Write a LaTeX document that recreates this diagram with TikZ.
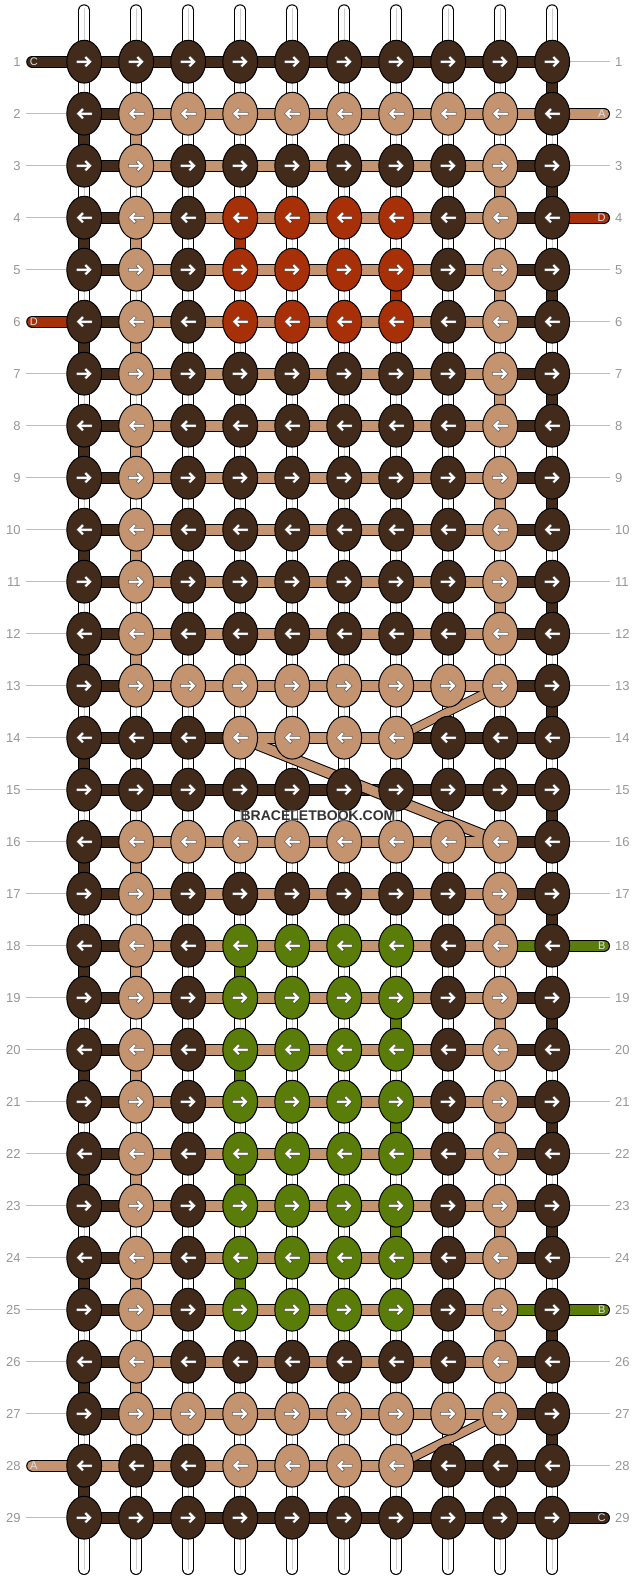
\documentclass[tikz,border=0pt]{standalone}
\usepackage{fontspec}
\setmainfont{Liberation Sans}
\usetikzlibrary{shapes.geometric,backgrounds}
\definecolor{brn}{RGB}{67,43,27}
\definecolor{tan}{RGB}{196,148,113}
\definecolor{rst}{RGB}{168,48,8}
\definecolor{grn}{RGB}{90,125,10}
\definecolor{warpline}{RGB}{205,205,205}
\definecolor{tickline}{RGB}{190,190,190}
\definecolor{numgray}{RGB}{150,150,150}
% knot colours of one row
\def\kAll{brn,brn,brn,brn,brn,brn,brn,brn,brn,brn}
\def\kA{brn,tan,brn,brn,brn,brn,brn,brn,tan,brn}
\def\kB{brn,tan,tan,tan,tan,tan,tan,tan,tan,brn}
\def\kC{brn,brn,brn,tan,tan,tan,tan,brn,brn,brn}
\def\kR{brn,tan,brn,rst,rst,rst,rst,brn,tan,brn}
\def\kG{brn,tan,brn,grn,grn,grn,grn,brn,tan,brn}
% thread colours between the knots of one row
\def\hAll{brn,brn,brn,brn,brn,brn,brn,brn,brn}
\def\hA{brn,tan,tan,tan,tan,tan,tan,tan,brn}
\def\hB{brn,tan,tan,tan,tan,tan,tan,tan,tan}
\def\hC{brn,brn,brn,tan,tan,tan,brn,brn,brn}
\def\hE{brn,tan,tan,tan,tan,tan,tan,tan,grn}
\def\hF{tan,tan,tan,tan,tan,tan,brn,brn,brn}
\tikzset{
    %Define style for knots
    knot/.style={
           ellipse,
           draw=black, line width=1pt,
           minimum width=34.8pt,
           minimum height=42.8pt,
           inner sep=0pt},
    % Define arrow style
    knotarrow/.style={
           fill=white,
           draw=black, draw opacity=.55, line width=.5pt},
    % Define threads
    thread/.style={
           draw=black, line width=12pt,
           postaction={draw=#1,line width=10pt}},
    slantlong/.style={
           draw=black, line width=11.5pt,
           postaction={draw=tan,line width=9.5pt}},
    slantshort/.style={
           draw=black, line width=9.5pt,
           postaction={draw=tan,line width=7.5pt}},
    warpmid/.style={
           draw=warpline, line width=1pt,
           line cap=round,
           shorten <=-1.5pt},
    tick/.style={
           draw=tickline, line width=1pt,
           yshift=.5pt,
           shorten <=5pt},
    num/.style={
           inner sep=0pt,
           text=numgray,
           font=\fontsize{13}{15}\selectfont},
    tailtext/.style={
           inner sep=0pt,
           text=white!88!black,
           font=\fontsize{11}{13}\selectfont}
}

\begin{document}
\begin{tikzpicture}[x=1pt,y=-1pt]
\useasboundingbox (0,0) rectangle (636,1580);

 %knots
\foreach \r/\cols in {1/\kAll,2/\kB,3/\kA,4/\kR,5/\kR,6/\kR,7/\kA,8/\kA,9/\kA,10/\kA,
    11/\kA,12/\kA,13/\kB,14/\kC,15/\kAll,16/\kB,17/\kA,18/\kG,19/\kG,20/\kG,21/\kG,
    22/\kG,23/\kG,24/\kG,25/\kG,26/\kA,27/\kB,28/\kC,29/\kAll}{
  \edef\rowcols{\cols}
  \pgfmathsetmacro\dir{ifthenelse(isodd(\r),1,-1)}
  \foreach \col [count=\c] in \rowcols{
    \node[knot,fill=\col](k-\r-\c) at ({84.2+52*(\c-1)},{61.7+52*(\r-1)}){};
    \draw[knotarrow,shift={(k-\r-\c)},xscale=\dir] (-7.8,-1.45) -- (2.35,-1.45) -- (0,-3.8) -- (2,-5.8)
      -- (7.8,0) -- (2,5.8) -- (0,3.8) -- (2.35,1.45) -- (-7.8,1.45) -- cycle;
  }
}

 %row numbers
\foreach \r in {1,...,29}{
  \node[num,anchor=east] (ln-\r) at (20.8,{61.7+52*(\r-1)}) {\r};
  \node[num,anchor=west] (rn-\r) at (615,{61.7+52*(\r-1)}) {\r};
}

 %free ends
\foreach \c in {1,...,10}{
  \coordinate (top-\c) at ({84.2+52*(\c-1)},10.3);
  \coordinate (bot-\c) at ({84.2+52*(\c-1)},1569);
}
\foreach \r/\col/\txt in {1/brn/C,6/rst/D,28/tan/A}{
  \node[tailtext] (lt-\r) at (33.9,{61.7+52*(\r-1)}) {\txt};
  \coordinate (le-\r) at (32.2,{61.7+52*(\r-1)});
}
\foreach \r/\col/\txt in {2/tan/A,4/rst/D,18/grn/B,25/grn/B,29/brn/C}{
  \node[tailtext] (rt-\r) at (601.7,{61.7+52*(\r-1)}) {\txt};
  \coordinate (re-\r) at (604,{61.7+52*(\r-1)});
}

\begin{pgfonlayer}{background}
 %white threads
\foreach \c in {1,...,10}{
  \draw[thread=white,line cap=round] (top-\c) -- (bot-\c);
  \draw[warpmid] (top-\c) -- (bot-\c);
}
 %coloured parts of the upright threads
\foreach \c/\col/\rows in {1/brn/{2,4,...,28},2/tan/{2,4,...,12,16,18,...,26},
    4/rst/{4},7/rst/{5},4/grn/{18,20,22,24},7/grn/{19,21,23},
    9/tan/{3,5,...,11,17,19,...,25},10/brn/{1,3,...,27}}{
  \foreach \r in \rows{
    \pgfmathtruncatemacro\nx{\r+1}
    \draw[thread=\col] (k-\r-\c.center) -- (k-\nx-\c.center);
  }
}
 %grey ticks to the numbers
\foreach \r in {2,...,5,7,8,...,27,29}
  \draw[tick] (ln-\r.east) -- (k-\r-1.west);
\foreach \r in {1,3,5,6,...,17,19,20,...,24,26,27,28}
  \draw[tick] (rn-\r.west) -- (k-\r-10.east);
 %threads across
\foreach \r/\segs in {1/\hAll,2/\hB,3/\hA,4/\hA,5/\hA,6/\hA,7/\hA,8/\hA,9/\hA,10/\hA,
    11/\hA,12/\hA,13/\hA,14/\hC,15/\hAll,16/\hA,17/\hA,18/\hE,19/\hA,20/\hA,21/\hA,
    22/\hA,23/\hA,24/\hA,25/\hE,26/\hA,27/\hA,28/\hF,29/\hAll}{
  \edef\rowsegs{\segs}
  \foreach \col [count=\c] in \rowsegs{
    \pgfmathtruncatemacro\nx{\c+1}
    \draw[thread=\col] (k-\r-\c.center) -- (k-\r-\nx.center);
  }
}
 %tails
\foreach \r/\col in {1/brn,6/rst,28/tan}
  \draw[thread=\col,line cap=round] (le-\r) -- (k-\r-1.center);
\foreach \r/\col in {2/tan,4/rst,18/grn,25/grn,29/brn}
  \draw[thread=\col,line cap=round] (re-\r) -- (k-\r-10.center);
 %slanting threads
\draw[slantlong] (k-14-4.center) -- (k-16-9.center);
\draw[slantshort] (k-13-9.center) -- (k-14-7.center);
\draw[slantshort] (k-27-9.center) -- (k-28-7.center);
\draw[tan,line width=10pt] (k-14-4.center) -- (k-14-5.center);
\draw[tan,line width=10pt] (k-16-8.center) -- (k-16-9.center);
\draw[tan,line width=10pt] (k-13-8.center) -- (k-13-9.center);
\draw[tan,line width=10pt] (k-27-8.center) -- (k-27-9.center);
\end{pgfonlayer}

 %watermark
\node[fill=white,fill opacity=.4,text opacity=1,inner sep=1pt,text=black!80,
      font=\fontsize{14}{16}\selectfont\bfseries] (mark) at (318,815.5) {BRACELETBOOK.COM};

\end{tikzpicture}
\end{document}
